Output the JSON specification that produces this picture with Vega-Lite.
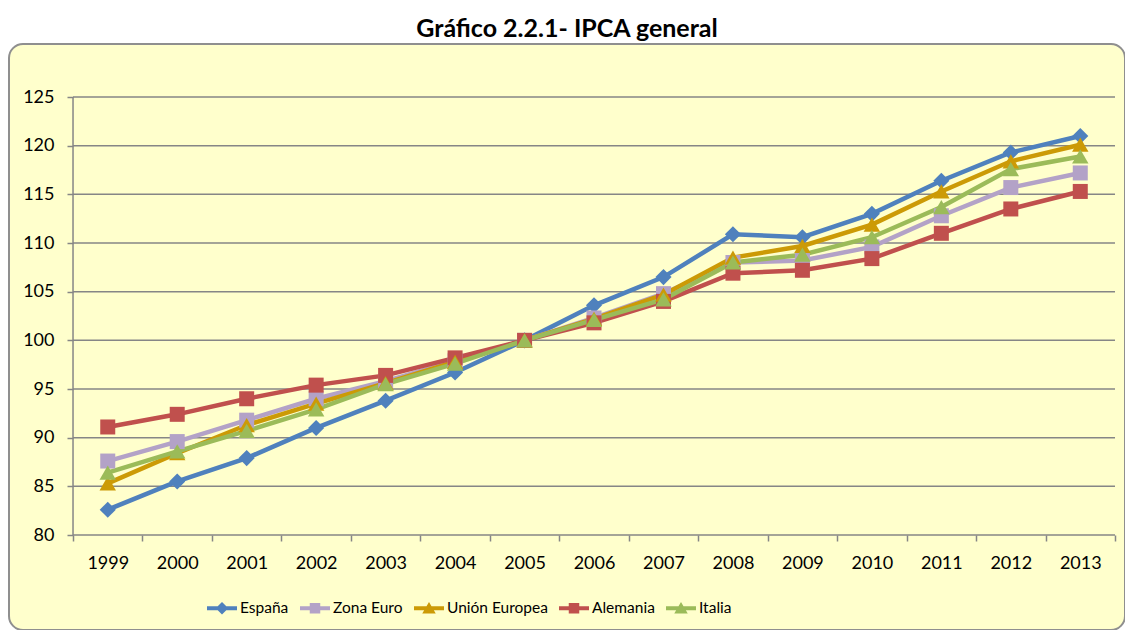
{
  "$schema": "https://vega.github.io/schema/vega-lite/v6.json",
  "autosize": {"type": "none"},
  "padding": {"left": 9, "top": 44, "right": 0, "bottom": 0},
  "width": 1116,
  "height": 586,
  "background": "white",
  "title": {"text": "Gráfico 2.2.1- IPCA general", "font": "Lato", "fontSize": 25, "fontWeight": "bold", "color": "black", "anchor": "middle", "offset": 2},
  "config": {
    "view": {"fill": "#FFFFCC", "stroke": "#8F8F8F", "strokeWidth": 2, "cornerRadius": 14},
    "legend": {
      "padding": 0, "title": null, "orient": "none", "legendX": 198, "legendY": 549, "direction": "horizontal", "columns": 5,
      "symbolSize": 900, "symbolStrokeWidth": 0, "symbolOpacity": 1,
      "labelFont": "Lato", "labelFontSize": 15.5, "labelColor": "black", "labelOffset": 3, "columnPadding": 11, "labelLimit": 300
    }
  },
  "datasets": {
    "grid": [{"value": 80}, {"value": 85}, {"value": 90}, {"value": 95}, {"value": 100}, {"value": 105}, {"value": 110}, {"value": 115}, {"value": 120}, {"value": 125}],
    "ipca": [
      {"year": "1999", "series": "España", "value": 82.6},
      {"year": "2000", "series": "España", "value": 85.5},
      {"year": "2001", "series": "España", "value": 87.9},
      {"year": "2002", "series": "España", "value": 91.0},
      {"year": "2003", "series": "España", "value": 93.8},
      {"year": "2004", "series": "España", "value": 96.7},
      {"year": "2005", "series": "España", "value": 100},
      {"year": "2006", "series": "España", "value": 103.6},
      {"year": "2007", "series": "España", "value": 106.5},
      {"year": "2008", "series": "España", "value": 110.9},
      {"year": "2009", "series": "España", "value": 110.6},
      {"year": "2010", "series": "España", "value": 113.0},
      {"year": "2011", "series": "España", "value": 116.4},
      {"year": "2012", "series": "España", "value": 119.3},
      {"year": "2013", "series": "España", "value": 121.0},
      {"year": "1999", "series": "Zona Euro", "value": 87.6},
      {"year": "2000", "series": "Zona Euro", "value": 89.6},
      {"year": "2001", "series": "Zona Euro", "value": 91.8},
      {"year": "2002", "series": "Zona Euro", "value": 94.0},
      {"year": "2003", "series": "Zona Euro", "value": 95.8},
      {"year": "2004", "series": "Zona Euro", "value": 97.9},
      {"year": "2005", "series": "Zona Euro", "value": 100},
      {"year": "2006", "series": "Zona Euro", "value": 102.3},
      {"year": "2007", "series": "Zona Euro", "value": 104.8},
      {"year": "2008", "series": "Zona Euro", "value": 108.0},
      {"year": "2009", "series": "Zona Euro", "value": 108.2},
      {"year": "2010", "series": "Zona Euro", "value": 109.6},
      {"year": "2011", "series": "Zona Euro", "value": 112.8},
      {"year": "2012", "series": "Zona Euro", "value": 115.7},
      {"year": "2013", "series": "Zona Euro", "value": 117.2},
      {"year": "1999", "series": "Unión Europea", "value": 85.3},
      {"year": "2000", "series": "Unión Europea", "value": 88.4},
      {"year": "2001", "series": "Unión Europea", "value": 91.3},
      {"year": "2002", "series": "Unión Europea", "value": 93.5},
      {"year": "2003", "series": "Unión Europea", "value": 95.6},
      {"year": "2004", "series": "Unión Europea", "value": 97.8},
      {"year": "2005", "series": "Unión Europea", "value": 100},
      {"year": "2006", "series": "Unión Europea", "value": 102.2},
      {"year": "2007", "series": "Unión Europea", "value": 104.7},
      {"year": "2008", "series": "Unión Europea", "value": 108.5},
      {"year": "2009", "series": "Unión Europea", "value": 109.7},
      {"year": "2010", "series": "Unión Europea", "value": 111.9},
      {"year": "2011", "series": "Unión Europea", "value": 115.3},
      {"year": "2012", "series": "Unión Europea", "value": 118.4},
      {"year": "2013", "series": "Unión Europea", "value": 120.1},
      {"year": "1999", "series": "Alemania", "value": 91.1},
      {"year": "2000", "series": "Alemania", "value": 92.4},
      {"year": "2001", "series": "Alemania", "value": 94.0},
      {"year": "2002", "series": "Alemania", "value": 95.4},
      {"year": "2003", "series": "Alemania", "value": 96.4},
      {"year": "2004", "series": "Alemania", "value": 98.2},
      {"year": "2005", "series": "Alemania", "value": 100},
      {"year": "2006", "series": "Alemania", "value": 101.8},
      {"year": "2007", "series": "Alemania", "value": 104.0},
      {"year": "2008", "series": "Alemania", "value": 106.9},
      {"year": "2009", "series": "Alemania", "value": 107.2},
      {"year": "2010", "series": "Alemania", "value": 108.4},
      {"year": "2011", "series": "Alemania", "value": 111.0},
      {"year": "2012", "series": "Alemania", "value": 113.5},
      {"year": "2013", "series": "Alemania", "value": 115.3},
      {"year": "1999", "series": "Italia", "value": 86.4},
      {"year": "2000", "series": "Italia", "value": 88.6},
      {"year": "2001", "series": "Italia", "value": 90.7},
      {"year": "2002", "series": "Italia", "value": 92.9},
      {"year": "2003", "series": "Italia", "value": 95.5},
      {"year": "2004", "series": "Italia", "value": 97.6},
      {"year": "2005", "series": "Italia", "value": 100},
      {"year": "2006", "series": "Italia", "value": 102.1},
      {"year": "2007", "series": "Italia", "value": 104.2},
      {"year": "2008", "series": "Italia", "value": 108.0},
      {"year": "2009", "series": "Italia", "value": 108.8},
      {"year": "2010", "series": "Italia", "value": 110.6},
      {"year": "2011", "series": "Italia", "value": 113.7},
      {"year": "2012", "series": "Italia", "value": 117.6},
      {"year": "2013", "series": "Italia", "value": 118.9}
    ]
  },
  "layer": [
    {
      "data": {"name": "grid"},
      "mark": {"type": "rule", "color": "#868686", "strokeWidth": 1.5},
      "encoding": {
        "y": {
          "field": "value", "type": "quantitative",
          "scale": {"domain": [70.24, 130.45], "nice": false, "zero": false},
          "axis": {
            "title": null, "orient": "left", "offset": -64, "domain": false, "grid": false,
            "values": [80, 85, 90, 95, 100, 105, 110, 115, 120, 125],
            "tickSize": 6, "tickColor": "#868686", "tickWidth": 1.5,
            "labelPadding": 13, "labelFont": "Lato", "labelFontSize": 18, "labelColor": "black"
          }
        },
        "x": {
          "datum": "1999", "type": "ordinal", "bandPosition": 0,
          "scale": {"type": "band", "paddingInner": 0, "paddingOuter": 0.5327, "align": 0.865},
          "axis": {
            "title": null, "orient": "bottom", "offset": -95, "domain": false, "grid": false,
            "tickBand": "extent", "tickSize": 6, "tickColor": "#868686", "tickWidth": 1.5,
            "labelAngle": 0, "labelPadding": 13, "labelFont": "Lato", "labelFontSize": 18, "labelColor": "black"
          }
        },
        "x2": {"datum": "2013", "bandPosition": 1}
      }
    },
    {
      "data": {"values": [{"a": 1}]},
      "mark": {"type": "rule", "color": "#868686", "strokeWidth": 1.5},
      "encoding": {
        "x": {"datum": "1999", "type": "ordinal", "bandPosition": 0},
        "y": {"datum": 80, "type": "quantitative"},
        "y2": {"datum": 125}
      }
    },
    {
      "data": {"name": "ipca"},
      "mark": {"type": "line", "strokeWidth": 4.5},
      "encoding": {
        "x": {"field": "year", "type": "ordinal"},
        "y": {"field": "value", "type": "quantitative"},
        "color": {
          "field": "series", "type": "nominal",
          "scale": {"domain": ["España", "Zona Euro", "Unión Europea", "Alemania", "Italia"], "range": ["#4F81BD", "#B3A2C7", "#CC9A06", "#C0504D", "#9BBB59"]},
          "legend": {
            "encode": {
              "symbols": {
                "update": {
                  "fill": {"scale": "color", "field": "value"},
                  "stroke": {"value": "transparent"},
                  "strokeWidth": {"value": 0},
                  "shape": {"signal": "datum.value === 'España' ? 'M-1,-0.13H1V0.13H-1Z M0,-0.42L0.42,0L0,0.42L-0.42,0Z' : (datum.value === 'Unión Europea' || datum.value === 'Italia') ? 'M-1,-0.13H1V0.13H-1Z M0,-0.42L0.45,0.35L-0.45,0.35Z' : 'M-1,-0.13H1V0.13H-1Z M-0.35,-0.35H0.35V0.35H-0.35Z'"}
                }
              }
            }
          }
        }
      }
    },
    {
      "data": {"name": "ipca"},
      "transform": [{"filter": "datum.series === 'España'"}],
      "mark": {"type": "point", "shape": "diamond", "filled": true, "opacity": 1, "size": 260},
      "encoding": {
        "x": {"field": "year", "type": "ordinal"},
        "y": {"field": "value", "type": "quantitative"},
        "color": {"field": "series", "type": "nominal"}
      }
    },
    {
      "data": {"name": "ipca"},
      "transform": [{"filter": "datum.series === 'Zona Euro' || datum.series === 'Alemania'"}],
      "mark": {"type": "point", "shape": "square", "filled": true, "opacity": 1, "size": 225},
      "encoding": {
        "x": {"field": "year", "type": "ordinal"},
        "y": {"field": "value", "type": "quantitative"},
        "color": {"field": "series", "type": "nominal"}
      }
    },
    {
      "data": {"name": "ipca"},
      "transform": [{"filter": "datum.series === 'Unión Europea' || datum.series === 'Italia'"}],
      "mark": {"type": "point", "shape": "triangle-up", "filled": true, "opacity": 1, "size": 270},
      "encoding": {
        "x": {"field": "year", "type": "ordinal"},
        "y": {"field": "value", "type": "quantitative"},
        "color": {"field": "series", "type": "nominal"}
      }
    }
  ]
}
